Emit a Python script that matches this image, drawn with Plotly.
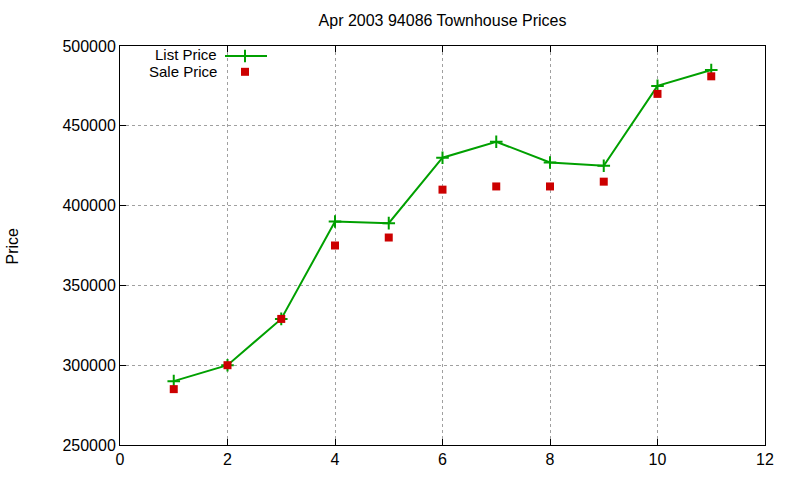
import plotly.graph_objects as go

x_vals = [1, 2, 3, 4, 5, 6, 7, 8, 9, 10, 11]
list_price = [290000, 300000, 329000, 390000, 389000, 430000, 440000, 427000, 425000, 475000, 485000]
sale_price = [285000, 300000, 329000, 375000, 380000, 410000, 412000, 412000, 415000, 470000, 481000]
x_ticks = [0, 2, 4, 6, 8, 10, 12]
y_ticks = [250000, 300000, 350000, 400000, 450000, 500000]

GREEN = "#00a000"
RED = "#cc0000"
FONT = "Liberation Sans, Arial, sans-serif"
FS = 16

L, R, T, B = 120, 765, 46, 448
W, H = R - L, B - T

fig = go.Figure()
fig.add_trace(go.Scatter(
    x=x_vals, y=list_price, mode="lines+markers", name="List Price",
    line=dict(color=GREEN, width=2),
    marker=dict(symbol="cross-thin", size=9, line=dict(color=GREEN, width=2), color=GREEN),
))
fig.add_trace(go.Scatter(
    x=x_vals, y=sale_price, mode="markers", name="Sale Price",
    marker=dict(symbol="square", size=8, color=RED),
))

axis_common = dict(
    showline=True, linecolor="black", linewidth=1, mirror="ticks",
    ticks="inside", ticklen=6, tickcolor="black",
    showgrid=True, gridcolor="#a0a0a0", griddash="dot", gridwidth=1,
    zeroline=False, tickfont=dict(family=FONT, size=FS, color="black"),
)

fig.update_xaxes(range=[0, 12], tickvals=x_ticks, **axis_common)
fig.update_yaxes(range=[250000, 500000], tickvals=y_ticks, tickformat="d", **axis_common)

# Y axis title
fig.add_annotation(xref="paper", yref="paper", x=(12 - L) / W, y=(B - 248) / H,
                   text="Price", textangle=-90, showarrow=False,
                   xanchor="center", yanchor="middle",
                   font=dict(family=FONT, size=FS, color="black"))

# Manual gnuplot-style legend (text on left, sample on right)
fig.add_annotation(xref="paper", yref="paper", x=(218 - L) / W, y=(B - 55) / H,
                   text="List Price", showarrow=False, xanchor="right", yanchor="middle",
                   borderpad=0, font=dict(family=FONT, size=15, color="black"))
fig.add_annotation(xref="paper", yref="paper", x=(218 - L) / W, y=(B - 72) / H,
                   text="Sale Price", showarrow=False, xanchor="right", yanchor="middle",
                   borderpad=0, font=dict(family=FONT, size=15, color="black"))
fig.add_trace(go.Scatter(
    x=[(225 - L) / W, (267 - L) / W], y=[(B - 56) / H] * 2,
    xaxis="x2", yaxis="y2", mode="lines", line=dict(color=GREEN, width=2),
    showlegend=False, hoverinfo="skip"))
fig.add_trace(go.Scatter(
    x=[(245 - L) / W], y=[(B - 56) / H],
    xaxis="x2", yaxis="y2", mode="markers",
    marker=dict(symbol="cross-thin", size=9, line=dict(color=GREEN, width=2)),
    showlegend=False, hoverinfo="skip"))
fig.add_trace(go.Scatter(
    x=[(245 - L) / W], y=[(B - 72) / H],
    xaxis="x2", yaxis="y2", mode="markers",
    marker=dict(symbol="square", size=8, color=RED),
    showlegend=False, hoverinfo="skip"))

fig.update_layout(
    width=800, height=480,
    margin=dict(l=L, r=800 - R, t=T, b=480 - B),
    paper_bgcolor="white", plot_bgcolor="white",
    showlegend=False,
    title=dict(text="Apr 2003 94086 Townhouse Prices", x=0.5, xref="paper", xanchor="center",
               y=1 - 20 / 480, yanchor="middle",
               font=dict(family=FONT, size=FS, color="black")),
    xaxis2=dict(overlaying="x", range=[0, 1], visible=False, anchor="y2"),
    yaxis2=dict(overlaying="y", range=[0, 1], visible=False, anchor="x2"),
    font=dict(family=FONT),
)

fig.write_html("out.html")
